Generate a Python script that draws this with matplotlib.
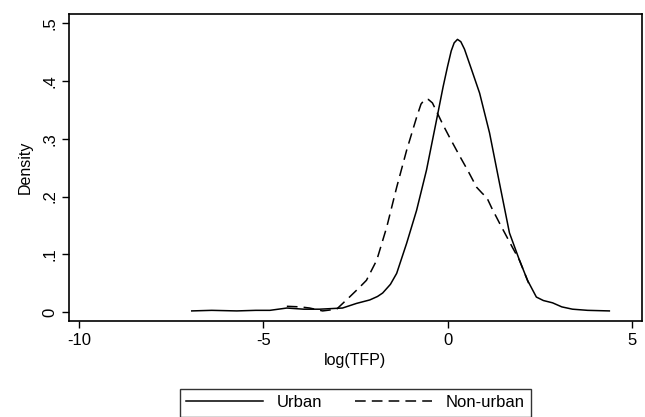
import matplotlib.pyplot as plt

plt.rcParams['font.family'] = ['Liberation Sans', 'DejaVu Sans']

# densidad kernel: log(TFP) vs densidad
urban_x = [-6.94, -6.4, -5.72, -5.2, -4.82, -4.36, -3.9, -3.47, -2.85, -2.47, -2.11,
           -1.9, -1.76, -1.55, -1.38, -1.11, -0.84, -0.57, -0.30, -0.12, 0.0, 0.1, 0.18,
           0.27, 0.36, 0.46, 0.65, 0.87, 1.14, 1.41, 1.68, 1.95, 2.17, 2.41, 2.6, 2.85,
           3.1, 3.39, 3.8, 4.39]
urban_y = [0.002, 0.003, 0.002, 0.003, 0.003, 0.007, 0.005, 0.005, 0.007, 0.015, 0.021,
           0.027, 0.033, 0.048, 0.067, 0.119, 0.176, 0.246, 0.332, 0.39, 0.425, 0.452, 0.466,
           0.472, 0.468, 0.455, 0.42, 0.379, 0.31, 0.223, 0.137, 0.09, 0.055, 0.026, 0.02,
           0.016, 0.009, 0.005, 0.003, 0.002]

nonurban_x = [-4.36, -4.0, -3.74, -3.39, -3.01, -2.66, -2.4, -2.2, -1.92, -1.65, -1.38,
              -1.11, -0.84, -0.72, -0.62, -0.52, -0.41, -0.22, -0.13, 0.05, 0.33, 0.55,
              0.79, 0.95, 1.06, 1.2, 1.41, 1.76, 1.95, 2.2]
nonurban_y = [0.010, 0.009, 0.007, 0.002, 0.005, 0.026, 0.042, 0.055, 0.09, 0.147, 0.216,
              0.28, 0.337, 0.36, 0.368, 0.368, 0.362, 0.337, 0.325, 0.303, 0.27, 0.245,
              0.216, 0.205, 0.199, 0.18, 0.154, 0.112, 0.09, 0.05]

fig = plt.figure(figsize=(6.45, 4.17), dpi=100)
ax = fig.add_axes([0.107, 0.230, 0.888, 0.736])

ax.plot(urban_x, urban_y, color='black', lw=1.1, label='Urban')
ax.plot(nonurban_x, nonurban_y, color='black', lw=1.1, linestyle=(0, (7, 4)), label='Non-urban')

ax.set_xlim(-10.27, 5.27)
ax.set_ylim(-0.0156, 0.5156)
ax.set_xticks([-10, -5, 0, 5])
ax.set_xticklabels(['-10', '-5', '0', '5'])
ax.set_yticks([0, 0.1, 0.2, 0.3, 0.4, 0.5])
ax.set_yticklabels(['0', '.1', '.2', '.3', '.4', '.5'], rotation=90, va='center')
ax.tick_params(axis='both', labelsize=12, length=5, width=1, direction='out')
for s in ax.spines.values():
    s.set_linewidth(1.2)

ax.set_xlabel('log(TFP)', fontsize=11.5, labelpad=4)
ax.set_ylabel('Density', fontsize=11.5, labelpad=7)

leg = fig.legend(loc='upper center', bbox_to_anchor=(0.551, 0.088), ncol=2,
                 fontsize=12, frameon=True, fancybox=False, edgecolor='black',
                 handlelength=4.6, columnspacing=2.0, borderpad=0.4)
leg.get_frame().set_linewidth(1.0)

plt.savefig('out.png', dpi=100)
